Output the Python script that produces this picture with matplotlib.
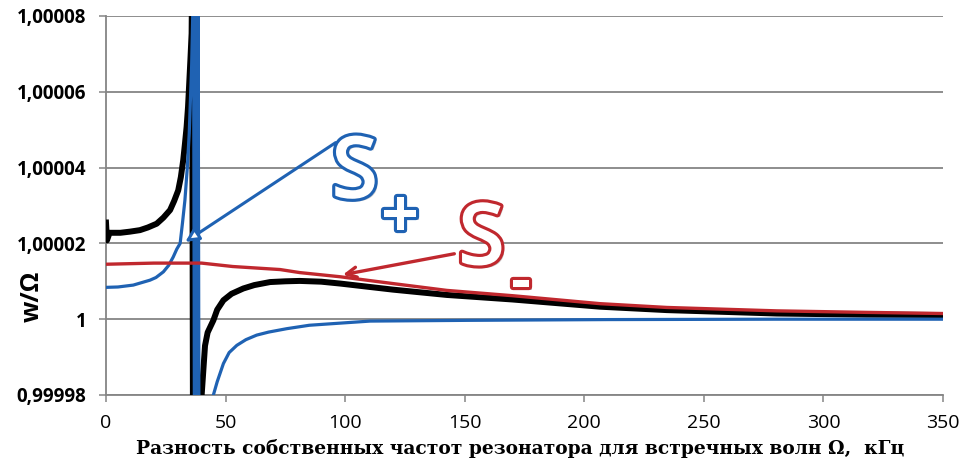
import matplotlib
matplotlib.use("Agg")
from matplotlib import pyplot as plt
from matplotlib import patheffects as pe
from matplotlib.patches import FancyArrowPatch

# Разность частот, кГц и отношение w/Omega для трёх кривых
black_x = [0, 0.4, 1.5, 6, 10, 14.2, 17.5, 21.2, 24, 26.8, 28.5, 30.2, 31.3, 32.3, 33.0,
           33.7, 34.3, 34.8, 35.3, 35.8, 36.0, 36.4,
           39.5, 40.0, 41.4, 42.5, 44.9, 46.5, 49.1, 52.5, 57.4, 62, 68.6, 75, 81, 90, 98,
           120, 142.5, 170, 206.6, 234.5, 280.5, 318, 350]
black_y = [1.0000255, 1.0000208, 1.0000228, 1.0000228, 1.0000231, 1.0000235, 1.0000242,
           1.0000252, 1.0000268, 1.0000288, 1.0000312, 1.000034, 1.0000375, 1.000042,
           1.0000462, 1.0000507, 1.000056, 1.0000622, 1.0000685, 1.0000754, 1.00009,
           0.99996,
           0.99996, 0.99998, 0.999993, 0.9999965, 0.9999997, 1.0000025, 1.000005,
           1.0000067, 1.0000081, 1.000009, 1.0000098, 1.00001, 1.0000101, 1.0000099,
           1.0000094, 1.0000078, 1.0000064, 1.0000052, 1.0000033, 1.0000024, 1.0000015,
           1.0000012, 1.0000011]

blue_x = [0, 5, 11.4, 18.4, 20.9, 24, 26.2, 28.1, 29.6, 31, 32, 33, 34, 34.8, 35.8, 36.6,
          37.0, 37.5, 38.0, 38.5, 38.9, 44.2, 44.9, 46.5, 49.1, 51.5, 54.7, 58.5, 63, 68,
          75.6, 85, 96.5, 110.4, 152, 210, 280, 350]
blue_y = [1.0000084, 1.0000085, 1.000009, 1.0000103, 1.000011, 1.0000125, 1.0000142,
          1.0000164, 1.0000185, 1.00002, 1.0000255, 1.0000314, 1.00004, 1.000049,
          1.0000666, 1.00009, 0.99996, 1.00009, 0.99996, 1.00009, 0.99996, 0.99996,
          0.99998, 0.9999835, 0.9999883, 0.9999912, 0.9999931, 0.9999946, 0.9999958,
          0.9999966, 0.9999975, 0.9999984, 0.9999989, 0.9999995, 0.9999997, 0.9999999,
          1.0, 1.0]

red_x = [0, 20, 40, 53, 72.8, 81, 97.9, 120, 142.5, 170, 206.6, 234.5, 280.5, 318, 350]
red_y = [1.0000145, 1.0000148, 1.0000148, 1.0000139, 1.0000131, 1.0000123, 1.0000112,
         1.0000094, 1.0000076, 1.0000062, 1.0000041, 1.0000031, 1.0000022, 1.0000018,
         1.0000015]

x_ticks = [0, 50, 100, 150, 200, 250, 300, 350]
y_ticks = [0.99998, 1.0, 1.00002, 1.00004, 1.00006, 1.00008]
y_tick_labels = ['0,99998', '1', '1,00002', '1,00004', '1,00006', '1,00008']

c_black = '#000000'
c_blue = '#1f62b3'
c_red = '#c0282e'
c_grid = '#858585'

fig = plt.figure(figsize=(9.65, 4.62), dpi=100)
ax = fig.add_axes([106 / 965, 1 - 395 / 462, (943 - 106) / 965, (395 - 16) / 462])

ax.plot(black_x, black_y, color=c_black, lw=4.3, zorder=3, solid_joinstyle='round')
ax.plot(blue_x, blue_y, color=c_blue, lw=2.3, zorder=4, solid_joinstyle='round')
ax.plot(red_x, red_y, color=c_red, lw=2.4, zorder=5, solid_joinstyle='round')

ax.set_xlim(0, 350)
ax.set_ylim(0.99998, 1.00008)
ax.set_xticks(x_ticks)
ax.set_xticklabels([str(t) for t in x_ticks])
ax.set_yticks(y_ticks)
ax.set_yticklabels(y_tick_labels)

ax.grid(axis='y', color=c_grid, lw=1.3, zorder=1)
ax.grid(axis='x', visible=False)
for s in ['top', 'right']:
    ax.spines[s].set_visible(False)
for s in ['left', 'bottom']:
    ax.spines[s].set_color(c_grid)
    ax.spines[s].set_linewidth(1.3)
ax.tick_params(axis='both', direction='out', length=5, width=1.1, color=c_grid)
ax.tick_params(axis='x', labelsize=14, pad=9)
ax.tick_params(axis='y', labelsize=13.5, pad=9)
for lab in ax.get_xticklabels():
    lab.set_fontfamily('Open Sans')
for lab in ax.get_yticklabels():
    lab.set_fontfamily('Open Sans')
    lab.set_fontweight('bold')

fig.text(32 / 965, 1 - 296 / 462, 'w/Ω', rotation=90, ha='center', va='center',
         fontsize=18, fontweight='bold', family='Open Sans')
fig.text(520 / 965, 1 - 448 / 462,
         'Разность собственных частот резонатора для встречных волн Ω,  кГц',
         ha='center', va='center', fontsize=13.4, fontweight='bold', family='DejaVu Serif')

# подписи S+ и S-
def outlined(color):
    return [pe.SimplePatchShadow(offset=(2, -2), shadow_rgbFace='#999999', alpha=0.5),
            pe.Stroke(linewidth=4.5, foreground=color), pe.Normal()]

ax.text(104, 1.0000378, 'S', fontsize=62, color='white', family='Open Sans',
        fontweight='semibold', ha='center', va='center', path_effects=outlined(c_blue),
        zorder=6)
ax.text(123, 1.0000263, '+', fontsize=48, color='white', family='Open Sans',
        fontweight='bold', ha='center', va='center', path_effects=outlined(c_blue), zorder=6)
ax.text(157, 1.0000202, 'S', fontsize=62, color='white', family='Open Sans',
        fontweight='semibold', ha='center', va='center', path_effects=outlined(c_red),
        zorder=6)
ax.text(173.6, 1.0000092, '-', fontsize=44, color='white', family='Open Sans',
        fontweight='bold', ha='center', va='center', path_effects=outlined(c_red), zorder=6)

# стрелки к кривым
ax.add_patch(FancyArrowPatch((97, 1.000047), (32.2, 1.00002), arrowstyle='-|>',
                             mutation_scale=20, lw=2.2, ec=c_blue, fc='white', zorder=6))
ax.add_patch(FancyArrowPatch((146.8, 1.0000174), (97.9, 1.0000116), arrowstyle='->',
                             mutation_scale=18, lw=2.4, color=c_red, zorder=6))

fig.savefig('out.png', dpi=100)
